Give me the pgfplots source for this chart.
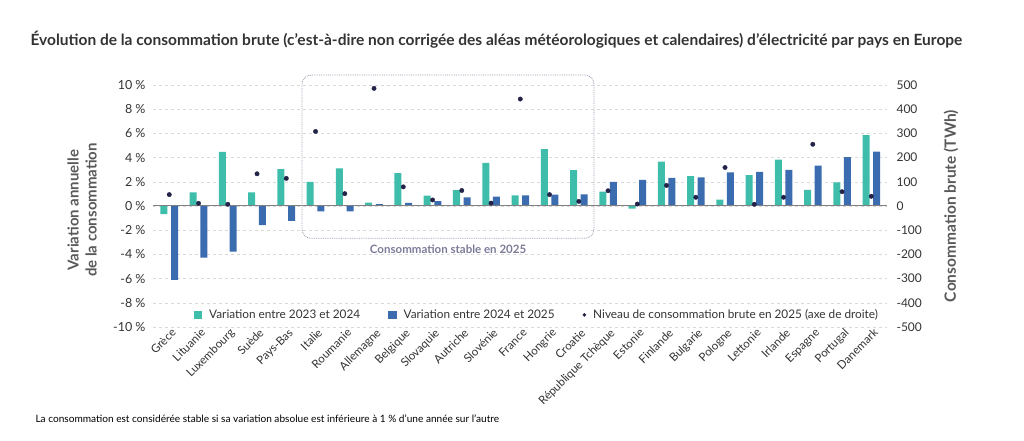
\documentclass[border=0pt]{standalone}
\usepackage{pgfplots}
\usepackage{pgfplotstable}
\pgfplotsset{compat=1.18}
\usepackage{fontspec}
\setmainfont{Lato}

\definecolor{tealbar}{HTML}{3DBDAA}
\definecolor{bluebar}{HTML}{3B6CAF}
\definecolor{navydot}{HTML}{23234A}
\definecolor{txt}{HTML}{333333}
\definecolor{stablebox}{HTML}{7B7B99}

% idx  v2324  v2425  twh
\pgfplotstableread{
idx  a      b      c
0   -0.68  -6.10  47
1    1.12  -4.27  11
2    4.47  -3.78   7
3    1.12  -1.59  133
4    3.04  -1.23  114
5    2.00  -0.44  308
6    3.10  -0.44  51
7    0.27   0.16  486
8    2.71   0.25  79
9    0.85   0.41  25
10   1.32   0.71  64
11   3.56   0.77  12
12   0.88   0.88  442
13   4.71   0.93  47
14   2.96   0.96  19
15   1.18   2.00  63
16  -0.22   2.16   8
17   3.67   2.33  85
18   2.47   2.36  36
19   0.52   2.77  159
20   2.55   2.82   7
21   3.84   2.99  36
22   1.34   3.34  255
23   1.95   4.03  59
24   5.86   4.49  40
}\data

\begin{document}
\begin{tikzpicture}[x=1pt,y=1pt]
\path[use as bounding box] (0,0) rectangle (1024,441);

\node[anchor=west, text=txt, font=\fontsize{15.5}{18}\selectfont\bfseries] at (27,401)
  {Évolution de la consommation brute (c’est-à-dire non corrigée des aléas météorologiques et calendaires) d’électricité par pays en Europe};

\node[anchor=west, text=black, font=\fontsize{10.1}{12}\selectfont] at (32,22)
  {La consommation est considérée stable si sa variation absolue est inférieure à 1 \% d’une année sur l’autre};

\node[rotate=90, align=center, text=black!65, font=\fontsize{15}{18}\selectfont\bfseries] at (82,231)
  {Variation annuelle\\de la consommation};
\node[rotate=90, text=black!65, font=\fontsize{15.5}{18}\selectfont\bfseries] at (951,235)
  {Consommation brute (TWh)};

\begin{axis}[
  at={(153pt,114pt)}, anchor=south west,
  scale only axis, width=734pt, height=242pt,
  xmin=-0.557, xmax=24.537,
  ymin=-10, ymax=10,
  clip=false,
  axis line style={draw=none},
  major tick length=0pt,
  xtick={0,...,24},
  xticklabels={Grèce, Lituanie, Luxembourg, Suède, Pays-Bas, Italie, Roumanie, Allemagne, Belgique, Slovaquie, Autriche, Slovénie, France, Hongrie, Croatie, République Tchèque, Estonie, Finlande, Bulgarie, Pologne, Lettonie, Irlande, Espagne, Portugal, Danemark},
  xticklabel style={rotate=45, anchor=north east, text=txt, font=\fontsize{11.5}{13}\selectfont, xshift=4pt, yshift=2pt},
  ytick={-10,-8,...,10},
  yticklabels={-10 \%, -8 \%, -6 \%, -4 \%, -2 \%, 0 \%, 2 \%, 4 \%, 6 \%, 8 \%, 10 \%},
  yticklabel style={text=txt, font=\fontsize{12.5}{14}\selectfont, xshift=-4pt},
  ymajorgrids, grid style={dashed, black!15},
  legend columns=3,
  legend style={draw=none, fill=none, at={(0.523,0.05)}, anchor=center,
    font=\fontsize{11.8}{14}\selectfont, text=txt,
    /tikz/every odd column/.append style={column sep=5pt},
    /tikz/every even column/.append style={column sep=26pt}},
]
\addplot[ybar, bar width=7pt, bar shift=-5.3pt, fill=tealbar, draw=none,
  legend image code/.code={\fill[tealbar] (0pt,-4.2pt) rectangle (8.5pt,4.3pt);}]
  table[x=idx, y=a] {\data};
\addlegendentry{Variation entre 2023 et 2024}
\addplot[ybar, bar width=7pt, bar shift=5.3pt, fill=bluebar, draw=none,
  legend image code/.code={\fill[bluebar] (0pt,-4.2pt) rectangle (8.5pt,4.3pt);}]
  table[x=idx, y=b] {\data};
\addlegendentry{Variation entre 2024 et 2025}
\addlegendimage{only marks, mark=*, mark size=1.6pt, color=navydot,
  legend image code/.code={\fill[navydot] (4pt,0pt) circle (1.6pt);}}
\addlegendentry{Niveau de consommation brute en 2025 (axe de droite)}

\draw[black!50, line width=1pt] (axis cs:-0.557,0) -- (axis cs:24.537,0);
\draw[stablebox!80, densely dotted, line width=0.8pt, rounded corners=9pt]
  (axis cs:4.54,-2.67) rectangle (axis cs:14.52,10.82);
\node[text=stablebox, font=\fontsize{11.5}{13}\selectfont\bfseries] at (axis cs:9.53,-3.6)
  {Consommation stable en 2025};
\end{axis}

\begin{axis}[
  at={(153pt,114pt)}, anchor=south west,
  scale only axis, width=734pt, height=242pt,
  xmin=-0.557, xmax=24.537,
  ymin=-500, ymax=500,
  axis y line*=right, axis x line=none,
  axis line style={draw=none},
  major tick length=0pt,
  ytick={-500,-400,...,500},
  yticklabels={-500,-400,-300,-200,-100,0,100,200,300,400,500},
  yticklabel style={text=txt, font=\fontsize{12}{14}\selectfont, anchor=west, xshift=6pt},
]
\addplot[only marks, mark=*, mark size=2.2pt, color=navydot] table[x=idx, y=c] {\data};
\end{axis}
\end{tikzpicture}
\end{document}
